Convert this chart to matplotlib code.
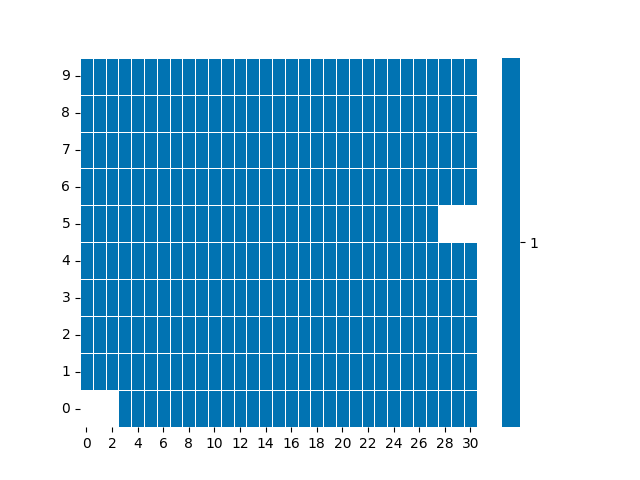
import numpy as np
import matplotlib
matplotlib.use("Agg")
import matplotlib.pyplot as plt
import seaborn as sns
from matplotlib.colors import ListedColormap

# Data
row_labels = list(range(10))
col_labels = list(range(31))
first_col = [3, 0, 0, 0, 0, 0, 0, 0, 0, 0]
last_col = [30, 30, 30, 30, 30, 27, 30, 30, 30, 30]
cell_value = 1

data = np.full((len(row_labels), len(col_labels)), np.nan)
for r in range(len(row_labels)):
    data[r, first_col[r]:last_col[r] + 1] = cell_value
mask = np.isnan(data)

fig, ax = plt.subplots(figsize=(6.4, 4.8), dpi=100)
sns.heatmap(data, mask=mask, cmap=ListedColormap(["#0173b2"]),
            linewidths=0.5, linecolor="white", ax=ax,
            xticklabels=2, yticklabels=row_labels,
            cbar_kws={"ticks": [cell_value]})
ax.invert_yaxis()
ax.set_xticklabels([str(c) for c in col_labels[::2]], rotation=0)
ax.set_yticklabels([str(r) for r in row_labels], rotation=0)
cbar = ax.collections[0].colorbar
cbar.set_ticks([cell_value])
cbar.set_ticklabels([str(cell_value)])
fig.savefig("out.png", dpi=100)
